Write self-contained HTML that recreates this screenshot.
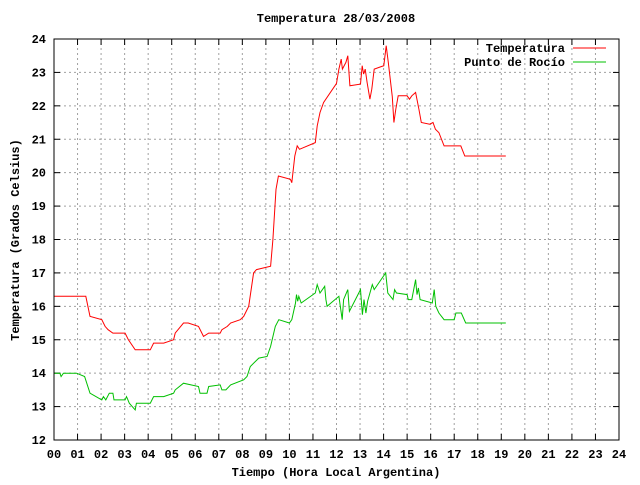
<!DOCTYPE html>
<html><head><meta charset="utf-8"><style>
body{margin:0;background:#fff}
svg text{font-family:"Liberation Mono",monospace;font-size:12px;font-weight:bold;fill:#000}
</style></head><body>
<svg id="c" width="640" height="480" xmlns="http://www.w3.org/2000/svg">
<text x="336" y="22" text-anchor="middle">Temperatura 28/03/2008</text>
<text x="336" y="476" text-anchor="middle">Tiempo (Hora Local Argentina)</text>
<text transform="translate(19,240) rotate(-90)" text-anchor="middle">Temperatura (Grados Celsius)</text>
<g id="grid"></g>
<g id="ticks"></g>
<g id="series"></g>
<rect x="54" y="39" width="565" height="401" fill="none" stroke="#000" stroke-width="1"/>
<g>
<text x="565" y="52" text-anchor="end">Temperatura</text>
<line x1="573" y1="48" x2="606" y2="48" stroke="#ff0000"/>
<text x="565" y="66" text-anchor="end">Punto de Rocío</text>
<line x1="573" y1="62" x2="606" y2="62" stroke="#00c000"/>
</g>
</svg>
<script>
const xTicks=["00","01","02","03","04","05","06","07","08","09","10","11","12","13","14","15","16","17","18","19","20","21","22","23","24"];
const yTicks=[12,13,14,15,16,17,18,19,20,21,22,23,24];
const tempHours=[0,1.35,1.53,2.03,2.17,2.3,2.5,3.02,3.16,3.45,4.09,4.23,4.66,5.08,5.15,5.5,5.7,6.14,6.35,6.57,7.06,7.13,7.36,7.5,7.91,8.06,8.27,8.48,8.6,9.2,9.3,9.43,9.53,10.04,10.1,10.23,10.33,10.43,11.1,11.18,11.3,11.45,12.0,12.1,12.2,12.25,12.4,12.48,12.57,13.02,13.09,13.15,13.22,13.3,13.42,13.5,13.6,14.01,14.11,14.2,14.37,14.44,14.52,14.62,15.0,15.1,15.2,15.36,15.5,15.6,15.96,16.1,16.2,16.35,16.57,17.28,17.45,19.19];
const tempValues=[16.3,16.3,15.7,15.6,15.4,15.3,15.2,15.2,15.0,14.7,14.7,14.9,14.9,15.0,15.2,15.5,15.5,15.4,15.1,15.2,15.2,15.3,15.4,15.5,15.6,15.7,16.0,17.0,17.1,17.2,18.0,19.5,19.9,19.8,19.7,20.5,20.8,20.7,20.9,21.4,21.8,22.1,22.67,23.1,23.4,23.1,23.3,23.5,22.6,22.65,23.2,22.95,23.1,22.7,22.2,22.5,23.1,23.2,23.8,23.3,22.27,21.5,21.9,22.3,22.3,22.2,22.3,22.4,21.9,21.5,21.45,21.5,21.3,21.2,20.8,20.8,20.5,20.5];
const dewHours=[0,0.25,0.3,0.4,0.96,1.3,1.53,2.03,2.1,2.2,2.35,2.5,2.55,3.02,3.08,3.2,3.45,3.5,4.09,4.23,4.66,5.08,5.15,5.5,6.14,6.2,6.5,6.57,7.06,7.13,7.3,7.5,8.06,8.2,8.34,8.7,9.05,9.2,9.4,9.55,10.0,10.1,10.26,10.3,10.35,10.4,10.5,11.1,11.18,11.3,11.5,11.55,11.6,12.1,12.24,12.3,12.48,12.55,13.02,13.1,13.17,13.25,13.32,13.52,13.6,14.09,14.18,14.4,14.47,14.55,15.0,15.05,15.2,15.36,15.42,15.48,15.55,16.07,16.15,16.22,16.35,16.57,17.0,17.07,17.3,17.49,19.19];
const dewValues=[14.0,14.0,13.9,14.0,14.0,13.9,13.4,13.2,13.3,13.2,13.4,13.4,13.2,13.2,13.3,13.1,12.9,13.1,13.1,13.3,13.3,13.4,13.5,13.7,13.6,13.4,13.4,13.6,13.65,13.5,13.5,13.65,13.8,13.9,14.2,14.45,14.5,14.8,15.4,15.6,15.5,15.6,16.1,16.35,16.15,16.3,16.1,16.4,16.65,16.4,16.6,16.2,16.0,16.3,15.6,16.2,16.5,15.85,16.5,15.75,16.2,15.8,16.15,16.65,16.5,17.0,16.4,16.2,16.5,16.4,16.35,16.2,16.2,16.8,16.35,16.55,16.2,16.1,16.5,16.0,15.8,15.6,15.6,15.8,15.8,15.5,15.5];
const NS="http://www.w3.org/2000/svg";
const X0=54,X1=619,Y0=440,Y1=39;
const xs=h=>X0+(X1-X0)*h/24;
const ys=v=>Y0-(Y0-Y1)*(v-12)/12;
function mk(t,a,p){const e=document.createElementNS(NS,t);for(const k in a)e.setAttribute(k,a[k]);p.appendChild(e);return e;}
const grid=document.getElementById('grid'),ticks=document.getElementById('ticks'),series=document.getElementById('series');
xTicks.forEach((lab,i)=>{const x=xs(i);
 if(i>0&&i<24){const g=mk('line',{x1:x,y1:Y0,x2:x,y2:Y1,stroke:'#a0a0a0','stroke-dasharray':'2,3'},grid);
 
 }
 const t1=mk('line',{x1:x,y1:Y0,x2:x,y2:Y0-6,stroke:'#000'},ticks);
 
 
 const t2=mk('line',{x1:x,y1:Y1,x2:x,y2:Y1+6,stroke:'#000'},ticks);
 
 
 const tx=mk('text',{x:x,y:458,'text-anchor':'middle'},ticks);tx.textContent=lab;
 
 
});
yTicks.forEach(v=>{const y=ys(v);
 if(v>12&&v<24){const g=mk('line',{x1:X0,y1:y,x2:X1,y2:y,stroke:'#a0a0a0','stroke-dasharray':'2,3'},grid);
 
 }
 const t1=mk('line',{x1:X0,y1:y,x2:X0+6,y2:y,stroke:'#000'},ticks);
 
 
 const t2=mk('line',{x1:X1,y1:y,x2:X1-6,y2:y,stroke:'#000'},ticks);
 
 
 const tx=mk('text',{x:46,y:y+4,'text-anchor':'end'},ticks);tx.textContent=v;
 
 
});
function line(hs,vs,color,name){
 const d=hs.map((h,i)=>(i?'L':'M')+xs(h).toFixed(1)+','+ys(vs[i]).toFixed(1)).join('');
 const p=mk('path',{d:d,fill:'none',stroke:color,'stroke-width':1},series);
 
 
}
line(tempHours,tempValues,'#ff0000','temperatura-line');
line(dewHours,dewValues,'#00c000','punto-de-rocio-line');
</script>
</body></html>
